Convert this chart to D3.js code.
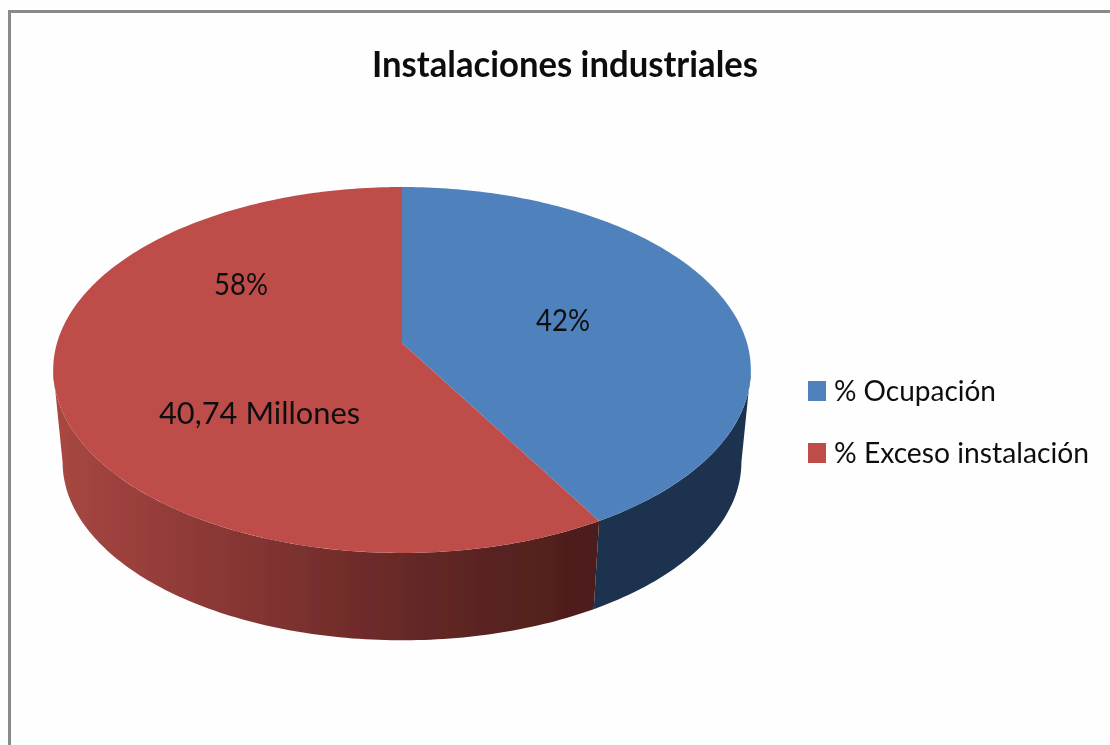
<!DOCTYPE html>
<html>
<head>
<meta charset="utf-8">
<script src="https://cdn.jsdelivr.net/npm/d3@7"></script>
<style>
  html, body { margin: 0; padding: 0; background: #fff; overflow: hidden; }
  text { font-family: Lato, "Open Sans", sans-serif; fill: #111; }
</style>
</head>
<body>
<svg id="chart" width="1110" height="745"></svg>
<script>
(function () {
  'use strict';

  var categories = ["% Ocupación", "% Exceso instalación"];
  var values = [41.7, 58.3];
  var labels = ["42%", "58%"];
  var note = "40,74 Millones";
  var title = "Instalaciones industriales";

  var topColors = ["#4f81bd", "#be4d4a"];
  var blueSide = "#1f334f";
  // red wall goes darker towards the right
  var redSideStops = ["#a84742", "#8f3a37", "#752e2c", "#5c2523", "#4c1d1a"];

  var svg = d3.select("#chart");

  // tilted disc, the far half is squeezed by the perspective
  var cx = 402, cy = 343;
  var rx = 345, ry = 179, persp = 0.1475;
  var depth = 93, shrink = 0.973;
  // angle where the outline of the disc is widest
  var edgeAngle = Math.acos(-persp);

  function project(a, lower) {
    var u = Math.sin(a), v = -Math.cos(a);
    var w = 1 - persp * v;
    var s = lower ? shrink : 1;
    return [cx + rx * s * u / w, cy + (lower ? depth : 0) + ry * s * v / w];
  }

  function arcPoints(a0, a1, lower) {
    var n = Math.max(2, Math.ceil((a1 - a0) * 60));
    return d3.range(n + 1).map(function (i) {
      return project(a0 + (a1 - a0) * i / n, lower);
    });
  }

  var line = d3.line();
  var slices = d3.pie().sort(null)(values);

  // soft edges, the reference is a scaled up screenshot
  var defs = svg.append("defs");
  defs.append("filter").attr("id", "soft")
    .append("feGaussianBlur").attr("stdDeviation", 0.45);

  var root = svg.append("g").attr("filter", "url(#soft)");

  // frame
  root.append("rect").attr("width", 1110).attr("height", 745).attr("fill", "#fefefe");
  root.append("path")
    .attr("d", "M9.5,750V11.5H1115")
    .attr("fill", "none")
    .attr("stroke", "#8a8a8a")
    .attr("stroke-width", 3);

  var grad = defs.append("linearGradient")
    .attr("id", "redSide")
    .attr("gradientUnits", "userSpaceOnUse")
    .attr("x1", 55).attr("x2", 600).attr("y1", 0).attr("y2", 0);
  redSideStops.forEach(function (c, i) {
    grad.append("stop")
      .attr("offset", i / (redSideStops.length - 1))
      .attr("stop-color", c);
  });

  // wall of the disc, only the part turned towards the viewer
  var walls = root.append("g");
  slices.forEach(function (d, i) {
    var a0 = Math.max(d.startAngle, edgeAngle);
    var a1 = Math.min(d.endAngle, 2 * Math.PI - edgeAngle);
    var pts = arcPoints(a0, a1, false).concat(arcPoints(a0, a1, true).reverse());
    walls.append("path")
      .attr("d", line(pts) + "Z")
      .attr("fill", i === 0 ? blueSide : "url(#redSide)");
  });

  // top face
  var top = root.append("g");
  slices.forEach(function (d, i) {
    var pts = [[cx, cy]].concat(arcPoints(d.startAngle, d.endAngle, false));
    top.append("path")
      .attr("d", line(pts) + "Z")
      .attr("fill", topColors[i]);
  });

  // lato is wider than the original font, so squeeze each text to its width
  function fitted(sel, width) {
    return sel.attr("textLength", width).attr("lengthAdjust", "spacingAndGlyphs");
  }

  fitted(root.append("text")
    .attr("x", 372).attr("y", 77)
    .attr("font-size", 36).attr("font-weight", 700)
    .text(title), 386);

  var labelPos = [[536, 331, 54], [214, 295, 54]];
  labels.forEach(function (t, i) {
    fitted(root.append("text")
      .attr("x", labelPos[i][0]).attr("y", labelPos[i][1])
      .attr("font-size", 30)
      .text(t), labelPos[i][2]);
  });

  fitted(root.append("text")
    .attr("x", 159).attr("y", 424)
    .attr("font-size", 31)
    .text(note), 201);

  var legend = root.append("g");
  var legendY = d3.scalePoint().domain(categories).range([391, 453]);
  var legendWidths = [162, 255];
  categories.forEach(function (c, i) {
    legend.append("rect")
      .attr("x", 808).attr("y", legendY(c) - 10)
      .attr("width", 18).attr("height", 20)
      .attr("fill", topColors[i]);
    fitted(legend.append("text")
      .attr("x", 834).attr("y", legendY(c) + 10)
      .attr("font-size", 29)
      .text(c), legendWidths[i]);
  });
})();
</script>
</body>
</html>
